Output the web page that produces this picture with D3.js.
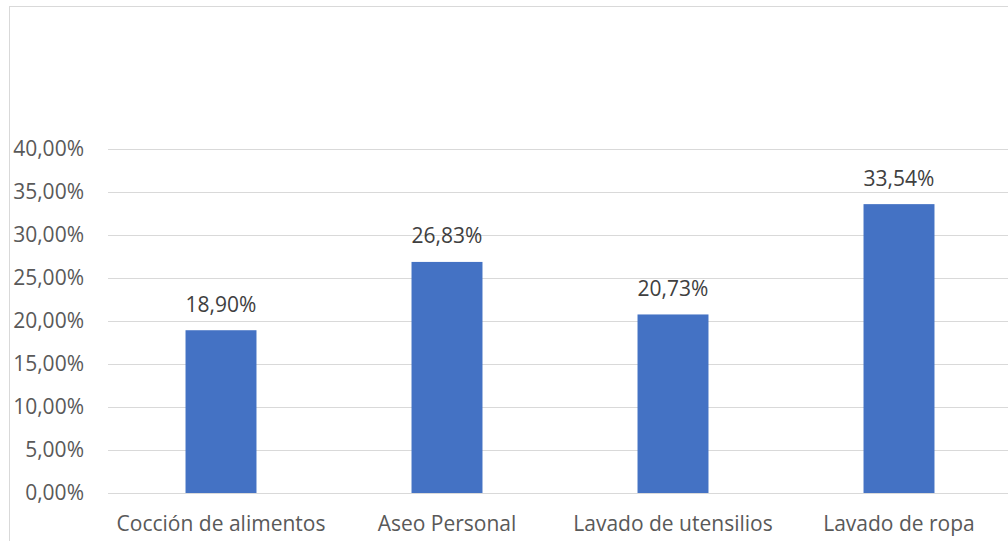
<!DOCTYPE html>
<html><head><meta charset="utf-8">
<script src="https://cdn.jsdelivr.net/npm/d3@7"></script>
<style>body{margin:0;background:#fff}svg{display:block}</style>
</head><body>
<svg id="c" width="1008" height="541"></svg>
<script>
const categories = ["Cocción de alimentos","Aseo Personal","Lavado de utensilios","Lavado de ropa"];
const values = [0.1890, 0.2683, 0.2073, 0.3354];
const yTicks = [0,0.05,0.10,0.15,0.20,0.25,0.30,0.35,0.40];

const svg = d3.select("#c");
const font = "'Open Sans', sans-serif";
const fs = 21;
const fmt = v => (v*100).toFixed(2).replace(".", ",") + "%";

svg.append("rect").attr("x",9.5).attr("y",6.5).attr("width",1100).attr("height",600)
  .attr("fill","none").attr("stroke","#d9d9d9").attr("stroke-width",1);

const x = d3.scaleBand().domain(categories).range([108,1012]).paddingInner(0.686).paddingOuter(0.343);
const y = d3.scaleLinear().domain([0,0.40]).range([493,148.5]);

const g = svg.append("g");
g.selectAll("line.grid").data(yTicks).join("line").attr("class","grid")
  .attr("x1",108).attr("x2",1008).attr("y1",d=>Math.round(y(d))+0.5).attr("y2",d=>Math.round(y(d))+0.5)
  .attr("stroke","#d9d9d9").attr("stroke-width",1);

const yAxis = svg.append("g").attr("transform","translate(84,0)")
  .call(d3.axisLeft(y).tickValues(yTicks).tickFormat(fmt).tickSize(0).tickPadding(0));
yAxis.select(".domain").remove();
yAxis.selectAll("text").attr("font-family",font).attr("font-size",fs).attr("fill","#595959");

svg.selectAll("rect.bar").data(values).join("rect").attr("class","bar")
  .attr("x",(d,i)=>x(categories[i])).attr("width",x.bandwidth())
  .attr("y",d=>y(d)).attr("height",d=>y(0)-y(d)).attr("fill","#4472C4");

svg.selectAll("text.val").data(values).join("text").attr("class","val")
  .attr("x",(d,i)=>x(categories[i])+x.bandwidth()/2).attr("y",d=>y(d)-18.5)
  .attr("text-anchor","middle").attr("font-family",font).attr("font-size",fs).attr("fill","#404040")
  .text(fmt);

const xAxis = svg.append("g").attr("transform","translate(0,493)")
  .call(d3.axisBottom(x).tickSize(0).tickPadding(23));
xAxis.select(".domain").remove();
xAxis.selectAll("text").attr("font-family",font).attr("font-size",fs).attr("fill","#595959");
</script>
</body></html>
